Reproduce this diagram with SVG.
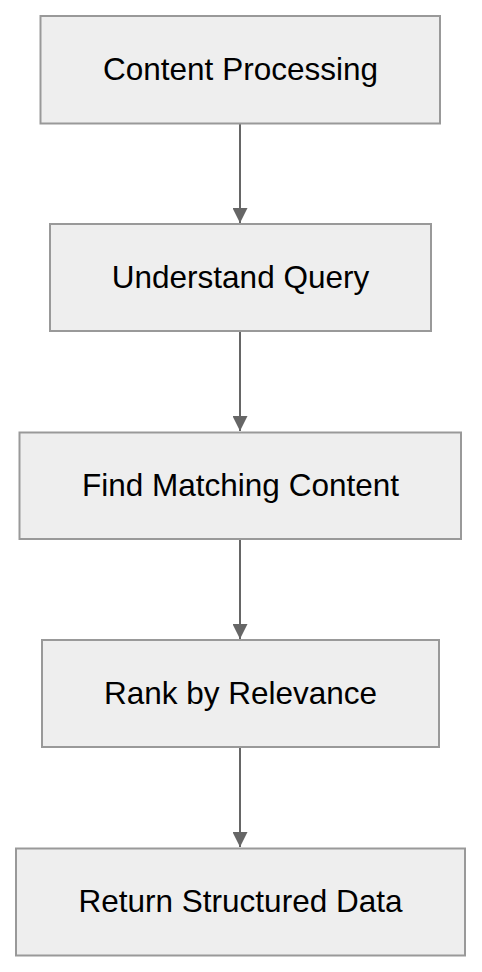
<svg xmlns="http://www.w3.org/2000/svg" width="482" height="972" viewBox="0 0 482 972">
<defs>
<style>
.box{fill:#eeeeee;stroke:#999999;stroke-width:2}
.lbl{font-family:"Liberation Sans",Arial,sans-serif;font-size:31.5px;fill:#000;text-anchor:middle}
.edge{stroke:#666666;stroke-width:2;fill:none}
</style>
<marker id="arr" markerWidth="16" markerHeight="15" refX="16" refY="8" orient="auto" markerUnits="userSpaceOnUse" viewBox="0 0 16 16">
<path d="M0,0 L16,8 L0,16 Z" fill="#666666"/>
</marker>
</defs>
<rect width="482" height="972" fill="#ffffff"/>
<g id="connectors">
<line class="edge" x1="240" y1="124" x2="240" y2="223" marker-end="url(#arr)"/>
<line class="edge" x1="240" y1="331" x2="240" y2="431" marker-end="url(#arr)"/>
<line class="edge" x1="240" y1="539" x2="240" y2="639" marker-end="url(#arr)"/>
<line class="edge" x1="240" y1="747" x2="240" y2="847" marker-end="url(#arr)"/>
</g>
<g id="n1"><rect class="box" x="40.5" y="16" width="399.5" height="107.5"/><text class="lbl" x="240.5" y="80">Content Processing</text></g>
<g id="n2"><rect class="box" x="50" y="224" width="381" height="107"/><text class="lbl" x="240.5" y="288">Understand Query</text></g>
<g id="n3"><rect class="box" x="19.5" y="432.5" width="441.5" height="106.5"/><text class="lbl" x="240.5" y="496">Find Matching Content</text></g>
<g id="n4"><rect class="box" x="42" y="640" width="397" height="107"/><text class="lbl" x="240.5" y="704">Rank by Relevance</text></g>
<g id="n5"><rect class="box" x="16" y="848.5" width="449" height="107"/><text class="lbl" x="240.5" y="912">Return Structured Data</text></g>
</svg>
